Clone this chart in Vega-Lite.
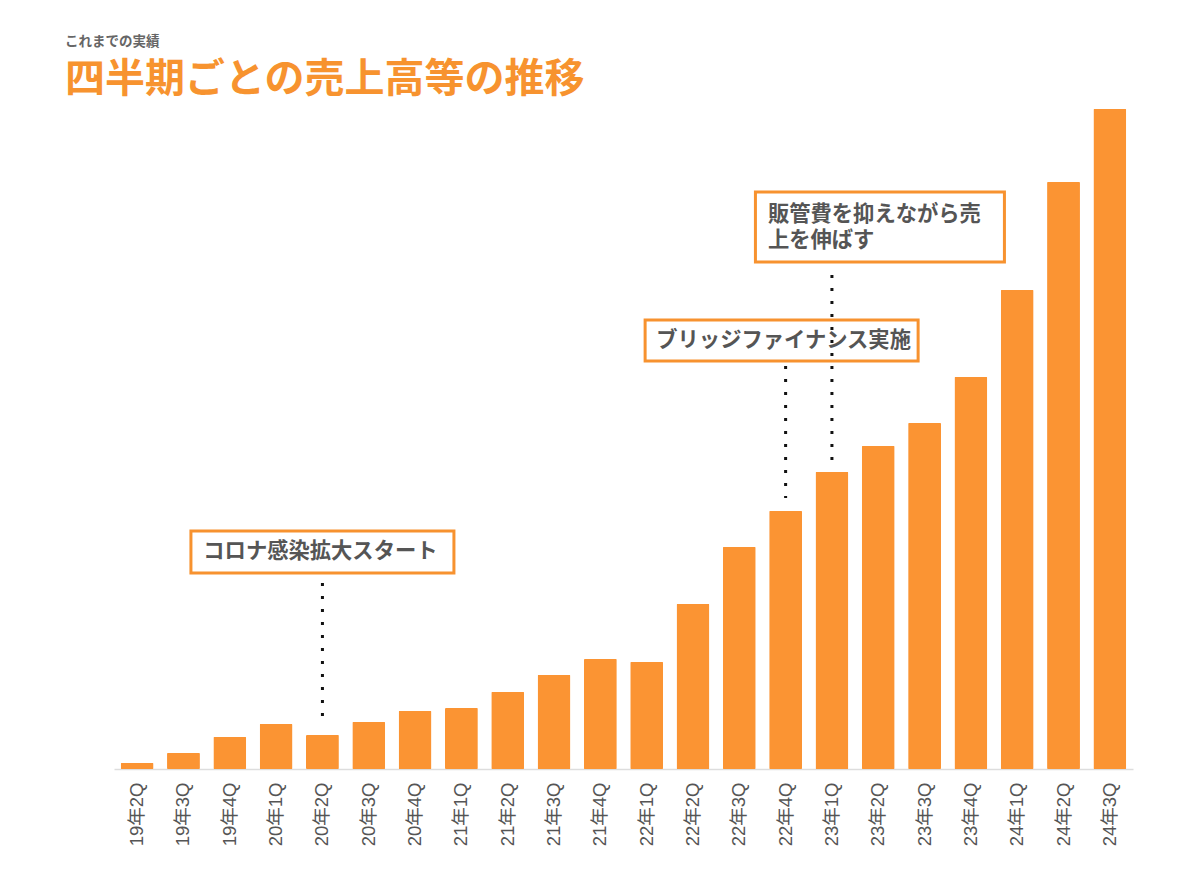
{
  "$schema": "https://vega.github.io/schema/vega-lite/v6.json",
  "autosize": {"type": "none"},
  "width": 1019,
  "height": 660,
  "padding": {"left": 114, "top": 109, "right": 67, "bottom": 108},
  "background": "white",
  "config": {"view": {"stroke": null}, "font": "Noto Sans CJK JP"},
  "title": {
    "text": "これまでの実績",
    "subtitle": "四半期ごとの売上高等の推移",
    "anchor": "start",
    "frame": "group",
    "dx": -49,
    "offset": 9,
    "font": "Noto Sans CJK JP",
    "fontSize": 13.5,
    "fontWeight": "bold",
    "color": "#666666",
    "subtitleFont": "Noto Sans CJK JP",
    "subtitleFontSize": 40,
    "subtitleFontWeight": "bold",
    "subtitleColor": "#F7932F",
    "subtitlePadding": 12
  },
  "datasets": {
    "sales": [
      {"q": "19年2Q", "v": 6},
      {"q": "19年3Q", "v": 16},
      {"q": "19年4Q", "v": 32},
      {"q": "20年1Q", "v": 45},
      {"q": "20年2Q", "v": 34},
      {"q": "20年3Q", "v": 47},
      {"q": "20年4Q", "v": 58},
      {"q": "21年1Q", "v": 61},
      {"q": "21年2Q", "v": 77},
      {"q": "21年3Q", "v": 94},
      {"q": "21年4Q", "v": 110},
      {"q": "22年1Q", "v": 107},
      {"q": "22年2Q", "v": 165},
      {"q": "22年3Q", "v": 222},
      {"q": "22年4Q", "v": 258},
      {"q": "23年1Q", "v": 297},
      {"q": "23年2Q", "v": 323},
      {"q": "23年3Q", "v": 346},
      {"q": "23年4Q", "v": 392},
      {"q": "24年1Q", "v": 479},
      {"q": "24年2Q", "v": 587},
      {"q": "24年3Q", "v": 660}
    ],
    "notes": [
      {"id": 1, "q": "20年2Q", "label": "コロナ感染拡大スタート", "boxTop": 238, "boxBottom": 196, "textY": 217, "lineTop": 186, "lineBottom": 49},
      {"id": 2, "q": "22年4Q", "label": "ブリッジファイナンス実施", "boxTop": 449, "boxBottom": 408, "textY": 428, "lineTop": 403, "lineBottom": 271},
      {"id": 3, "q": "23年1Q", "label": "販管費を抑えながら売\n上を伸ばす", "boxTop": 577, "boxBottom": 507, "textY": 554, "lineTop": 494, "lineBottom": 306}
    ]
  },
  "encoding": {
    "x": {
      "field": "q",
      "type": "nominal",
      "sort": null,
      "scale": {"paddingInner": 0.29, "paddingOuter": 0.145},
      "axis": {
        "title": null,
        "domain": true,
        "domainColor": "#dddddd",
        "domainWidth": 1.5,
        "ticks": false,
        "labelAngle": -90,
        "labelAlign": "right",
        "labelBaseline": "middle",
        "labelFont": "Liberation Sans, Noto Sans CJK JP",
        "labelFontSize": 18.5,
        "labelFontWeight": "normal",
        "labelColor": "#555555",
        "labelPadding": 13
      }
    }
  },
  "layer": [
    {
      "data": {"name": "sales"},
      "mark": {"type": "bar", "color": "#FB9433", "cornerRadius": 1},
      "encoding": {
        "y": {"field": "v", "type": "quantitative", "scale": {"domain": [0, 660], "nice": false, "zero": true}, "axis": null}
      }
    },
    {
      "data": {"name": "notes"},
      "transform": [{"filter": "datum.id == 1"}],
      "mark": {"type": "bar", "width": 263, "fill": "white", "stroke": "#F7922F", "strokeWidth": 3},
      "encoding": {
        "y": {"field": "boxTop", "type": "quantitative"},
        "y2": {"field": "boxBottom"}
      }
    },
    {
      "data": {"name": "notes"},
      "transform": [{"filter": "datum.id == 2"}],
      "mark": {"type": "bar", "width": 273, "xOffset": -4, "fill": "white", "stroke": "#F7922F", "strokeWidth": 3},
      "encoding": {
        "y": {"field": "boxTop", "type": "quantitative"},
        "y2": {"field": "boxBottom"}
      }
    },
    {
      "data": {"name": "notes"},
      "transform": [{"filter": "datum.id == 3"}],
      "mark": {"type": "bar", "width": 249, "xOffset": 48, "fill": "white", "stroke": "#F7922F", "strokeWidth": 3},
      "encoding": {
        "y": {"field": "boxTop", "type": "quantitative"},
        "y2": {"field": "boxBottom"}
      }
    },
    {
      "data": {"name": "notes"},
      "transform": [{"filter": "datum.id != 3"}],
      "mark": {"type": "text", "align": "center", "baseline": "middle", "font": "Noto Sans CJK JP", "fontSize": 21.3, "fontWeight": "bold", "color": "#555555", "dx": -2},
      "encoding": {
        "y": {"field": "textY", "type": "quantitative"},
        "text": {"field": "label"}
      }
    },
    {
      "data": {"name": "notes"},
      "transform": [{"filter": "datum.id == 3"}],
      "mark": {"type": "text", "align": "left", "baseline": "middle", "lineBreak": "\n", "lineHeight": 26, "font": "Noto Sans CJK JP", "fontSize": 21.3, "fontWeight": "bold", "color": "#555555", "dx": -64},
      "encoding": {
        "y": {"field": "textY", "type": "quantitative"},
        "text": {"field": "label"}
      }
    },
    {
      "data": {"name": "notes"},
      "mark": {"type": "rule", "color": "#111111", "strokeWidth": 3, "strokeDash": [3, 10], "strokeCap": "butt"},
      "encoding": {
        "y": {"field": "lineTop", "type": "quantitative"},
        "y2": {"field": "lineBottom"}
      }
    }
  ]
}
